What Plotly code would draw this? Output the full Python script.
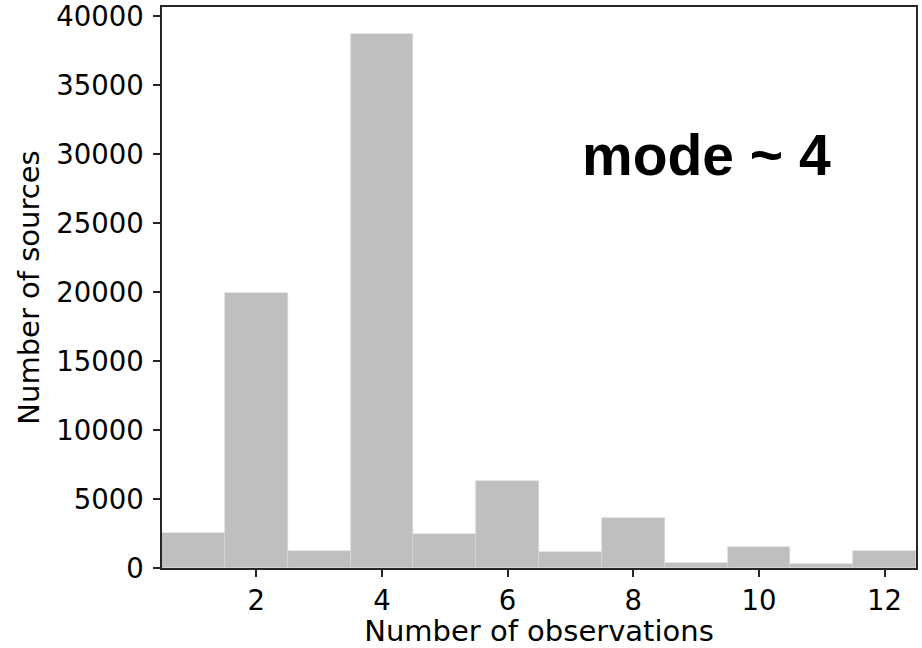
import plotly.graph_objects as go

observations = [1, 2, 3, 4, 5, 6, 7, 8, 9, 10, 11, 12]
sources = [2560, 19920, 1230, 38720, 2470, 6330, 1140, 3620, 390, 1500, 270, 1210]
x_ticks = [2, 4, 6, 8, 10, 12]
y_ticks = [0, 5000, 10000, 15000, 20000, 25000, 30000, 35000, 40000]

fig = go.Figure()
fig.add_trace(go.Bar(
    x=observations, y=sources, width=1,
    marker=dict(color="#bfbfbf", line=dict(color="#d9d9d9", width=0.6)),
))

fig.add_annotation(
    x=9.17, y=29900, xref="x", yref="y", text="<b>mode ~ 4</b>",
    showarrow=False, xanchor="center", yanchor="middle",
    font=dict(family="Liberation Sans, Arial", size=57, color="black"),
)

axis_common = dict(
    showline=True, linecolor="#262626", linewidth=1.5, mirror=True,
    ticks="outside", ticklen=7, tickwidth=1.5, tickcolor="#262626",
    showgrid=False, zeroline=False, automargin=False,
    ticklabeloverflow="allow",
    tickfont=dict(family="DejaVu Sans", size=27.5, color="black"),
)

fig.update_layout(
    width=922, height=648,
    margin=dict(l=162, r=6, t=7, b=80),
    plot_bgcolor="white", paper_bgcolor="white",
    showlegend=False, bargap=0,
    xaxis=dict(range=[0.5, 12.5], tickvals=x_ticks,
               title=dict(text="Number of observations", standoff=4,
                          font=dict(family="DejaVu Sans", size=29, color="black")),
               **axis_common),
    yaxis=dict(range=[0, 40650], tickvals=y_ticks, tickformat="d",
               ticklabelstandoff=4,
               title=dict(text="Number of sources", standoff=8,
                          font=dict(family="DejaVu Sans", size=29, color="black")),
               **axis_common),
)

fig.write_html("out.html")
